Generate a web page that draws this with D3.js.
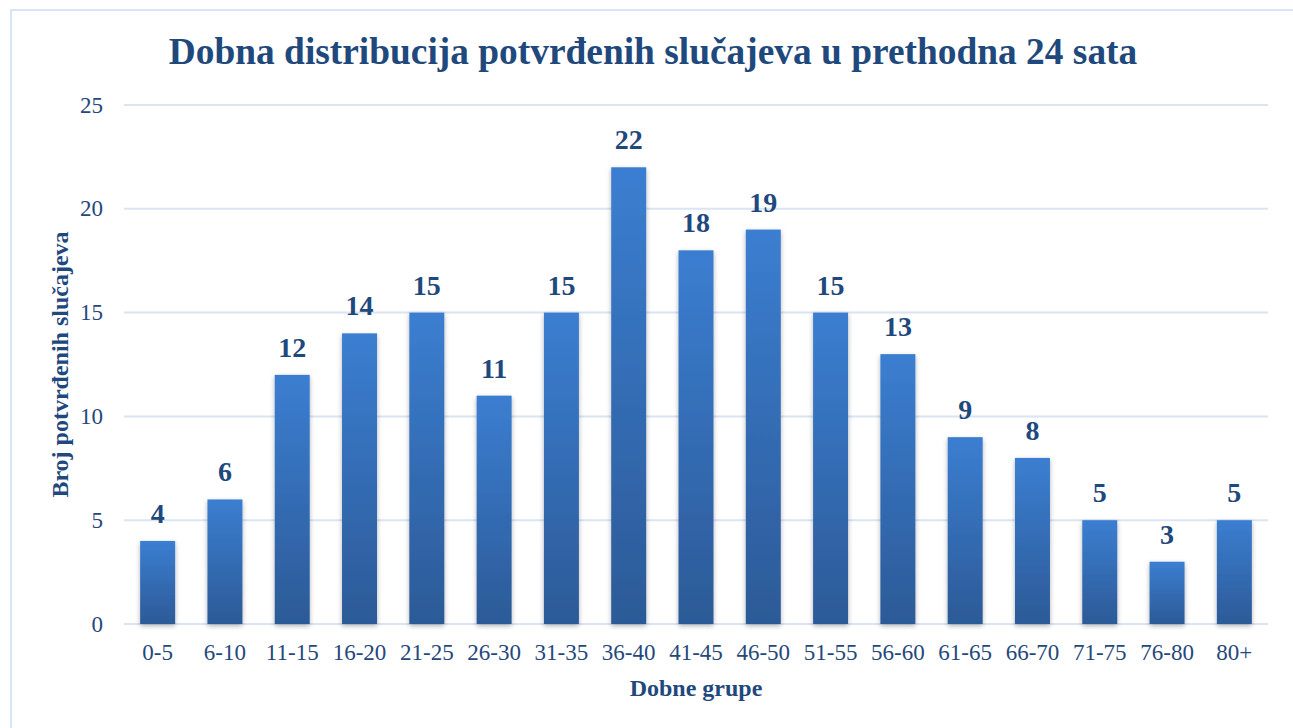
<!DOCTYPE html>
<head>
    <meta charset="utf-8">
    <script src="https://d3js.org/d3.v7.min.js"></script>
    <style>
        body { margin:0; background:#fff; }
        text { font-family: 'Liberation Serif', 'Times New Roman', serif; }
        .grid line { stroke: #d9e4f4; stroke-width: 2; }
        .tick-label { font-size: 23px; fill: #25487a; }
        .chart-title { font-size: 37.4px; font-weight: bold; fill: #1f497d; }
        .axis-title { font-size: 24px; font-weight: bold; fill: #1f497d; }
        .value-label { font-size: 28px; font-weight: bold; fill: #1f497d; }
    </style>
</head>
<body>
<script>
    const ageGroups = ['0-5','6-10','11-15','16-20','21-25','26-30','31-35','36-40','41-45','46-50','51-55','56-60','61-65','66-70','71-75','76-80','80+'];
    const cases = [4, 6, 12, 14, 15, 11, 15, 22, 18, 19, 15, 13, 9, 8, 5, 3, 5];
    const yTicks = [0, 5, 10, 15, 20, 25];

    const width = 1293, height = 728;
    const margins = {top: 105, right: 25, bottom: 104, left: 124};
    const innerWidth = width - margins.left - margins.right;
    const innerHeight = height - margins.top - margins.bottom;

    const svg = d3.select('body').append('svg')
        .attr('width', width)
        .attr('height', height);

    const defs = svg.append('defs');
    const grad = defs.append('linearGradient')
        .attr('id', 'barGrad')
        .attr('x1', 0).attr('y1', 0).attr('x2', 0).attr('y2', 1);
    grad.append('stop').attr('offset', '0%').attr('stop-color', '#3b7ed1');
    grad.append('stop').attr('offset', '100%').attr('stop-color', '#2c5a97');

    const shadow = defs.append('filter').attr('id', 'shadow')
        .attr('x', '-30%').attr('y', '-10%').attr('width', '160%').attr('height', '120%');
    shadow.append('feDropShadow')
        .attr('dx', 0).attr('dy', 2).attr('stdDeviation', 2.5)
        .attr('flood-color', '#000').attr('flood-opacity', 0.3);

    // outer border, runs off the right and bottom edges
    svg.append('rect')
        .attr('x', 11).attr('y', 10)
        .attr('width', width + 10).attr('height', height + 10)
        .attr('fill', 'none')
        .attr('stroke', '#d9e4f4')
        .attr('stroke-width', 2);

    const x = d3.scaleBand()
        .domain(ageGroups)
        .range([0, innerWidth])
        .paddingInner(0.48)
        .paddingOuter(0.24);

    const y = d3.scaleLinear()
        .domain([0, 25])
        .range([innerHeight, 0]);

    const inner = svg.append('g')
        .attr('transform', `translate(${margins.left},${margins.top})`);

    inner.append('g')
        .attr('class', 'grid')
        .selectAll('line')
        .data(yTicks)
        .enter().append('line')
        .attr('x1', 0).attr('x2', innerWidth)
        .attr('y1', d => y(d)).attr('y2', d => y(d));

    inner.append('g')
        .selectAll('text')
        .data(yTicks)
        .enter().append('text')
        .attr('class', 'tick-label')
        .attr('x', -21)
        .attr('y', d => y(d))
        .attr('dy', '0.33em')
        .attr('text-anchor', 'end')
        .text(d => d);

    inner.append('g')
        .selectAll('text')
        .data(ageGroups)
        .enter().append('text')
        .attr('class', 'tick-label')
        .attr('x', d => x(d) + x.bandwidth() / 2)
        .attr('y', innerHeight + 36)
        .attr('text-anchor', 'middle')
        .text(d => d);

    const data = ageGroups.map((g, i) => ({group: g, value: cases[i]}));

    inner.append('g')
        .selectAll('rect')
        .data(data)
        .enter().append('rect')
        .attr('x', d => x(d.group))
        .attr('y', d => y(d.value))
        .attr('width', x.bandwidth())
        .attr('height', d => innerHeight - y(d.value))
        .attr('fill', 'url(#barGrad)')
        .attr('filter', 'url(#shadow)');

    inner.append('g')
        .selectAll('text')
        .data(data)
        .enter().append('text')
        .attr('class', 'value-label')
        .attr('x', d => x(d.group) + x.bandwidth() / 2)
        .attr('y', d => y(d.value) - 18)
        .attr('text-anchor', 'middle')
        .text(d => d.value);

    svg.append('text')
        .attr('class', 'chart-title')
        .attr('x', 653)
        .attr('y', 64)
        .attr('text-anchor', 'middle')
        .text('Dobna distribucija potvrđenih slučajeva u prethodna 24 sata');

    svg.append('text')
        .attr('class', 'axis-title')
        .attr('x', margins.left + innerWidth / 2)
        .attr('y', 696)
        .attr('text-anchor', 'middle')
        .text('Dobne grupe');

    svg.append('text')
        .attr('class', 'axis-title')
        .attr('transform', `translate(68,${margins.top + innerHeight / 2}) rotate(-90)`)
        .attr('text-anchor', 'middle')
        .text('Broj potvrđenih slučajeva');
</script>
</body>
